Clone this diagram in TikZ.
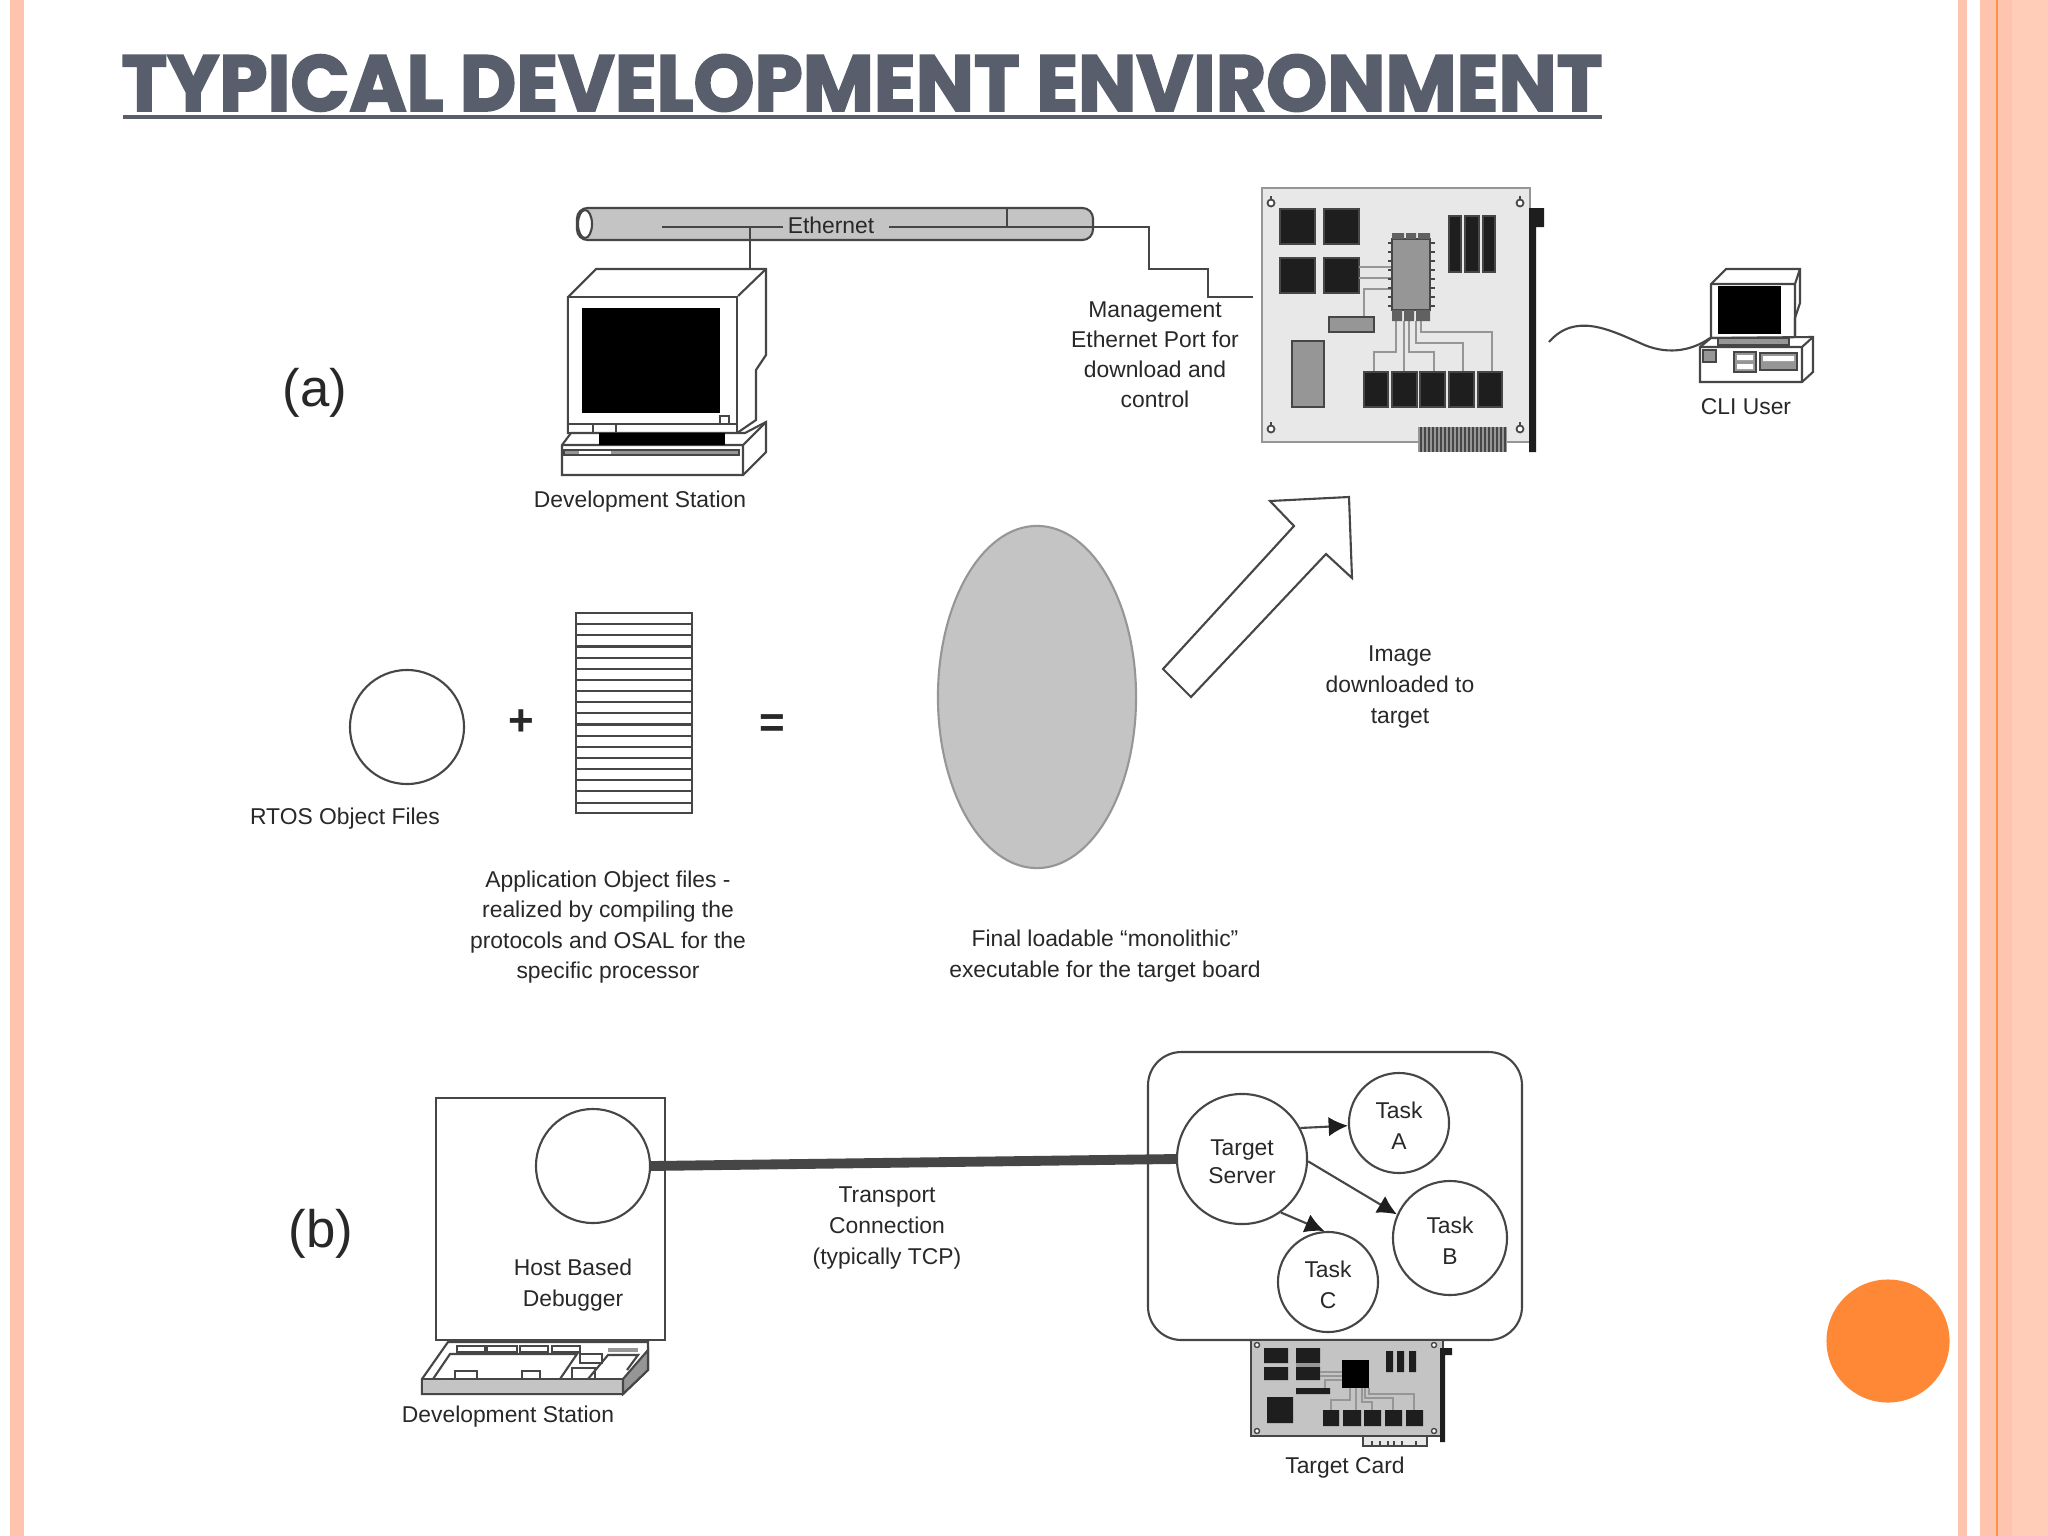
\documentclass[tikz,border=0pt]{standalone}
\usepackage{fontspec}
\usepackage{graphicx}
\setmainfont{Liberation Sans}
\newfontfamily\titlefont[FakeBold=2.5]{Poppins}
\usetikzlibrary{arrows.meta, shapes.geometric}
\definecolor{pink1}{RGB}{255,196,174}
\definecolor{pink2}{RGB}{255,205,184}
\definecolor{orange1}{RGB}{255,136,55}
\definecolor{slate1}{RGB}{88,94,107}
\definecolor{ink1}{RGB}{40,40,40}
\definecolor{line1}{RGB}{70,70,70}
\definecolor{card1}{RGB}{232,232,232}
\definecolor{card2}{RGB}{196,196,196}
\definecolor{chip1}{RGB}{30,30,30}
\definecolor{grey1}{RGB}{150,150,150}
\newcommand{\pad}{\rule{0pt}{6.2pt}}
\tikzstyle{block} = [text=ink1, align=center, inner sep=0pt, font=\fontsize{6.5}{8.6}\selectfont, execute at begin node=\pad]
\tikzstyle{disc} = [block, circle, draw=line1, line width=0.6pt, fill=white]
\tikzstyle{wire} = [draw=line1, line width=0.6pt]
\tikzstyle{flow} = [wire, -{Latex[length=5.5pt,width=5.5pt,color=chip1]}]
\tikzstyle{trace} = [draw=grey1, line width=0.5pt]
\tikzstyle{chip} = [fill=chip1, draw=line1, line width=0.3pt]
\tikzstyle{part} = [fill=grey1, draw=line1, line width=0.4pt]

\begin{document}
\begin{tikzpicture}[x=0.01cm, y=-0.01cm, node distance=0.31cm]
	\useasboundingbox (0,0) rectangle (2048,1536);
	% Slide
	\fill [white] (0,0) rectangle (2048,1536);
	\fill [pink1] (10,0) rectangle (24,1536);
	\fill [pink1] (1958,0) rectangle (1967,1536);
	\fill [pink1] (1980,0) rectangle (2012,1536);
	\fill [pink2] (2012,0) rectangle (2048,1536);
	\fill [orange1!85!pink1] (1996,0) rectangle (1998,1536);
	\node [circle, fill=orange1, minimum size=1.23cm, inner sep=0pt] (C01) at (1888,1341) {};
	\node [text=slate1, inner sep=0pt, font=\titlefont\bfseries\fontsize{22.5}{23}\selectfont] (TT) at (862,83) {\scalebox{0.979}[1]{TYPICAL DEVELOPMENT ENVIRONMENT}};
	\fill [slate1] (123,115) rectangle (1602,119);

	% Ethernet and development station
	\draw [wire, fill=card2, rounded corners=3pt] (577,208) rectangle (1093,240);
	\draw [wire, fill=white] (585,224) ellipse (7 and 14);
	\node [block] (E00) at (831,223) {Ethernet};
	\coordinate (E01) at (662,227);
	\coordinate (E02) at (750,227);
	\coordinate (E03) at (1007,208);
	\coordinate (E04) at (1007,227);
	\coordinate (E05) at (1253,297);
	\coordinate (E06) at (783,227);
	\coordinate (E07) at (889,227);
	\draw [wire] (E01) to (E06);
	\draw [wire] (E07) -- (1149,227) -- (1149,269) -- (1208,269) -- (1208,297) -- (E05);
	\draw [wire] (E03) to (E04);
	\draw [wire, fill=white] (596,269) -- (766,269) -- (766,355) -- (756,370) -- (756,420) -- (737,433) -- (568,433) -- (568,297) -- cycle;
	\node [draw=line1, line width=0.6pt, fill=white, minimum width=1.69cm, minimum height=1.36cm, inner sep=0pt] (M01) at (652.5,365) {};
	\draw [wire] (E02) to (750,269);
	\draw [wire] (M01.north east) -- (766,269);
	\fill [black] (582,308) rectangle (720,413);
	\draw [wire] (720,416) rectangle (729,424);
	\draw [wire] (568,424) -- (737,424) (593,424) -- (593,433) (616,424) -- (616,433);
	\draw [wire, fill=white] (562,445) -- (571,433) -- (745,433) -- (766,422) -- (766,452) -- (743,475) -- (562,475) -- cycle;
	\draw [wire] (562,445) -- (743,445) -- (766,422) (743,445) -- (743,475);
	\fill [black] (599,433) rectangle (725,445);
	\draw [wire, fill=grey1] (564,450) rectangle (739,455);
	\fill [white] (579,451) rectangle (611,454);
	\node [block] (L01) at (640,499) {Development Station};
	\node [block, font=\fontsize{6.5}{8.5}\selectfont] (L02) at (1155,355) {Management\\Ethernet Port for\\download and\\control};

	% Target board
	\draw [draw=grey1, fill=card1, line width=0.8pt] (1262,188) rectangle (1530,442);
	\fill [chip1] (1529,208) rectangle (1536,452) (1529,208) rectangle (1544,227);
	\draw [chip] (1280,209) rectangle (1315,244) (1324,209) rectangle (1359,244) (1280,258) rectangle (1315,293) (1324,258) rectangle (1359,293);
	\draw [chip] (1449,216) rectangle (1461,272) (1465,216) rectangle (1479,272) (1483,216) rectangle (1495,272);
	\draw [trace] (1359,267) -- (1392,267) (1359,278) -- (1392,278) (1392,289) -- (1364,289) -- (1364,317);
	\draw [trace] (1396,321) -- (1396,352) -- (1374,352) -- (1374,372) (1404,321) -- (1404,372) (1409,321) -- (1409,352) -- (1434,352) -- (1434,372) (1416,321) -- (1416,343) -- (1463,343) -- (1463,372) (1421,321) -- (1421,332) -- (1492,332) -- (1492,372);
	\draw [chip] (1364,372) rectangle (1388,407) (1392,372) rectangle (1417,407) (1420,372) rectangle (1445,407) (1449,372) rectangle (1474,407) (1478,372) rectangle (1502,407);
	\draw [part] (1392,239) rectangle (1430,310) (1329,317) rectangle (1374,332) (1292,341) rectangle (1324,407);
	\fill [chip1!70] (1392,233) rectangle (1404,239) (1406,233) rectangle (1416,239) (1418,233) rectangle (1430,239);
	\fill [chip1!70] (1392,310) rectangle (1402,321) (1404,310) rectangle (1414,321) (1416,310) rectangle (1430,321);
	\foreach \y in {243,252,261,270,279,288,297,306} {
		\draw [line1, line width=0.5pt] (1388,\y) -- (1392,\y) (1430,\y) -- (1435,\y);
	}
	\fill [grey1] (1418,427) rectangle (1507,452);
	\foreach \x in {1421,1425,...,1505} {
		\draw [line1, line width=0.4pt] (\x,427) -- (\x,452);
	}
	\foreach \x/\y in {1271/203, 1520/203, 1271/429, 1520/429} {
		\draw [line1, line width=0.5pt, fill=white] (\x,\y) circle [radius=3.5] (\x,\y-7) -- (\x,\y-3);
	}
	\coordinate (W01) at (1549,342);
	\coordinate (W02) at (1710,338);
	\draw [wire] (W01) .. controls (1575,312) and (1610,330) .. (1640,343) .. controls (1665,355) and (1690,352) .. (W02);

	% CLI user
	\draw [wire, fill=white] (1726,269) -- (1800,269) -- (1800,303) -- (1795,318) -- (1795,338) -- (1711,338) -- (1711,284) -- cycle;
	\draw [wire] (1711,284) -- (1795,284) -- (1800,269) (1795,284) -- (1795,338);
	\fill [black] (1718,286) rectangle (1781,334);
	\draw [wire, fill=white] (1711,338) -- (1813,337) -- (1813,372) -- (1802,382) -- (1700,382) -- (1700,347) -- cycle;
	\draw [wire] (1700,347) -- (1802,347) -- (1813,337) (1802,347) -- (1802,382);
	\draw [part] (1718,338) rectangle (1789,345) (1703,350) rectangle (1716,362) (1734,352) rectangle (1756,372) (1760,353) rectangle (1797,370);
	\fill [white] (1737,355) rectangle (1753,360) (1737,364) rectangle (1753,369) (1763,356) rectangle (1794,361);
	\node [block] (L03) at (1746,404) {CLI User};

	% Build row
	\node [disc, minimum size=1.14cm] (R01) at (407,727) {};
	\node [block] (L04) at (345,816) {RTOS Object Files};
	\node [block, font=\bfseries\fontsize{12.5}{13}\selectfont] (L05) at (521,723) {+};
	\node [draw=line1, line width=0.6pt, fill=white, minimum width=1.16cm, minimum height=2cm, inner sep=0pt] (A01) at (634,713) {};
	\foreach \y in {1,...,17} {
		\draw [line1, line width=0.6pt] (576,613+\y*11.15) -- (692,613+\y*11.15);
	}
	\node [block, font=\bfseries\fontsize{12.5}{13}\selectfont] (L06) at (772,726) {=};
	\node [block, font=\fontsize{6.5}{8.7}\selectfont] (L07) at (608,927) {Application Object files -\\realized by compiling the\\protocols and OSAL for the\\specific processor};
	\node [ellipse, draw=grey1, fill=card2, line width=0.6pt, minimum width=1.98cm, minimum height=3.42cm, inner sep=0pt] (F01) at (1037,697) {};
	\node [block] (L08) at (1105,956) {Final loadable “monolithic”\\executable for the target board};
	\draw [wire, fill=white] (1163,669) -- (1191,697) -- (1326,554) -- (1352,578) -- (1349,497) -- (1270,501) -- (1294,526) -- cycle;
	\node [block, font=\fontsize{6.5}{8.9}\selectfont] (L09) at (1400,687) {Image\\downloaded to\\target};
	\node [block, font=\fontsize{15}{15}\selectfont] (L10) at (315,393) {(a)};
	\node [block, font=\fontsize{15}{15}\selectfont] (L11) at (321,1234) {(b)};

	% Host side
	\draw [draw=line1, line width=0.7pt, fill=white] (436,1098) rectangle (665,1340);
	\node [disc, minimum size=1.14cm] (D01) at (593,1166) {};
	\node [block] (L12) at (573,1285) {Host Based\\Debugger};
	\draw [wire, fill=white] (448,1342) -- (648,1342) -- (648,1370) -- (623,1394) -- (422,1394) -- (422,1379) -- cycle;
	\draw [wire, fill=card2] (422,1379) rectangle (623,1394);
	\draw [wire, fill=grey1] (623,1379) -- (648,1350) -- (648,1370) -- (623,1394) -- cycle;
	\draw [wire] (433,1379) -- (450,1354) -- (577,1354) -- (560,1379) (588,1379) -- (608,1355) -- (638,1355) -- (627,1370);
	\draw [wire] (457,1346) rectangle (485,1352) (487,1346) rectangle (517,1352) (520,1346) rectangle (548,1352) (552,1346) rectangle (580,1352);
	\draw [wire] (580,1354) rectangle (602,1363) (572,1368) rectangle (595,1379) (455,1371) rectangle (477,1379) (522,1371) rectangle (540,1379);
	\fill [grey1] (608,1348) rectangle (638,1352);
	\node [block] (L13) at (508,1414) {Development Station};

	% Target side
	\draw [draw=line1, line width=0.6pt, fill=white, rounded corners=9.5pt] (1148,1052) rectangle (1522,1340);
	\node [disc, minimum size=1.3cm, font=\fontsize{6.5}{8}\selectfont] (S01) at (1242,1159) {\pad Target\\Server};
	\node [disc, minimum size=1cm, font=\fontsize{6.5}{8.8}\selectfont] (T01) at (1399,1123) {\pad Task\\A};
	\node [disc, minimum size=1.14cm, font=\fontsize{6.5}{8.8}\selectfont] (T02) at (1450,1238) {\pad Task\\B};
	\node [disc, minimum size=1cm, font=\fontsize{6.5}{8.8}\selectfont] (T03) at (1328,1282) {\pad Task\\C};
	\draw [draw=line1, line width=2.8pt] (D01.east) to (S01.west);
	\draw [flow] (S01.28) to (T01.183);
	\draw [flow] (S01.-2) to (T02.156);
	\draw [flow] (S01.-54) to (T03.94);
	\node [block, font=\fontsize{6.5}{8.9}\selectfont] (L14) at (887,1228) {Transport\\Connection\\(typically TCP)};

	% Target card
	\draw [draw=line1, fill=card2, line width=0.7pt] (1251,1340) rectangle (1443,1436);
	\fill [chip1] (1440,1348) rectangle (1445,1442) (1440,1348) rectangle (1452,1355);
	\fill [chip1] (1264,1348) rectangle (1288,1363) (1264,1367) rectangle (1288,1380) (1296,1348) rectangle (1320,1363) (1296,1367) rectangle (1320,1380);
	\fill [grey1] (1296,1363) rectangle (1320,1367);
	\fill [black] (1342,1360) rectangle (1369,1388);
	\fill [chip1] (1386,1351) rectangle (1393,1372) (1397,1351) rectangle (1404,1372) (1409,1351) rectangle (1416,1372);
	\fill [chip1] (1296,1388) rectangle (1330,1394) (1267,1397) rectangle (1293,1423);
	\draw [trace] (1320,1372) -- (1342,1372) (1320,1376) -- (1342,1376) (1342,1380) -- (1325,1380) -- (1325,1388);
	\draw [trace] (1350,1388) -- (1350,1400) -- (1331,1400) -- (1331,1410) (1356,1388) -- (1356,1410) (1362,1388) -- (1362,1402) -- (1372,1402) -- (1372,1410) (1365,1388) -- (1365,1398) -- (1393,1398) -- (1393,1410) (1369,1388) -- (1369,1394) -- (1414,1394) -- (1414,1410);
	\fill [chip1] (1323,1410) rectangle (1339,1426) (1343,1410) rectangle (1361,1426) (1364,1410) rectangle (1381,1426) (1385,1410) rectangle (1402,1426) (1406,1410) rectangle (1423,1426);
	\draw [wire, fill=card1] (1363,1436) rectangle (1427,1446);
	\draw [line1, line width=0.5pt] (1372,1441) -- (1372,1446) (1380,1441) -- (1380,1446) (1388,1441) -- (1388,1446) (1394,1441) -- (1394,1446) (1402,1441) -- (1402,1446) (1416,1441) -- (1416,1446);
	\foreach \x/\y in {1257/1345, 1434/1345, 1257/1431, 1434/1431} {
		\draw [line1, line width=0.4pt, fill=white] (\x,\y) circle [radius=2.5];
	}
	\node [block] (L15) at (1345,1465) {Target Card};
\end{tikzpicture}
\end{document}
